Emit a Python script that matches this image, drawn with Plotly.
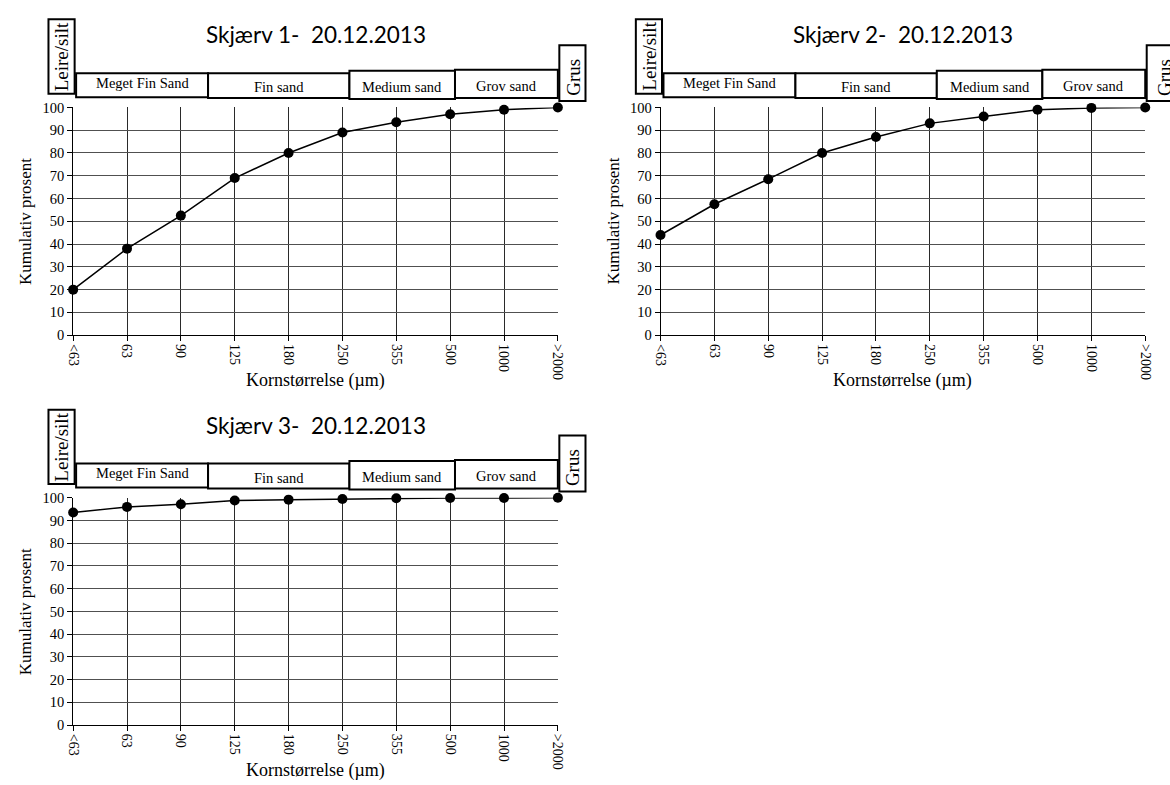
import plotly.graph_objects as go

W, H = 1170, 785

categories = ["<63", "63", "90", "125", "180", "250", "355", "500", "1000", ">2000"]
skjaerv1 = [20, 38, 52.5, 69, 80, 89, 93.5, 97, 99, 100]
skjaerv2 = [44, 57.5, 68.5, 80, 87, 93, 96, 99, 99.8, 100]
skjaerv3 = [93.5, 96, 97.2, 98.8, 99.2, 99.5, 99.8, 99.9, 99.9, 100]
titles = ["Skjærv 1-  20.12.2013", "Skjærv 2-  20.12.2013", "Skjærv 3-  20.12.2013"]
y_ticks = list(range(0, 101, 10))
band_labels = ["Meget Fin Sand", "Fin sand", "Medium sand", "Grov sand"]

SERIF = "Liberation Serif"
TITLEF = "Lato"

def py(p):
    return 1 - p / H

def px(p):
    return p / W

# panel plot-area pixel boxes (left, right, top, bottom, grus text offset)
panels = [
    (66, 557, 101.5, 334, skjaerv1, 15),
    (661, 1152, 101.5, 334, skjaerv2, 19),
    (66, 557, 500, 732, skjaerv3, 15),
]

fig = go.Figure()
layout = dict(
    width=W, height=H, margin=dict(l=0, r=0, t=0, b=0),
    paper_bgcolor="white", plot_bgcolor="white", showlegend=False,
)
annotations = []
shapes = []

for i, (L, R, T, B, vals, gx) in enumerate(panels):
    n = "" if i == 0 else str(i + 1)
    xa, ya = "x" + n, "y" + n
    step = (R - L) / (len(categories) - 1)

    def xp(idx):
        return px(L + idx * step)

    fig.add_trace(go.Scatter(
        x=list(range(len(categories))), y=vals, mode="lines+markers",
        line=dict(color="black", width=1.5),
        marker=dict(color="black", size=10),
        cliponaxis=False, xaxis=xa, yaxis=ya, hoverinfo="skip",
    ))
    layout["xaxis" + n] = dict(
        domain=[px(L), px(R)], range=[0, len(categories) - 1], anchor=ya,
        tickmode="array", tickvals=list(range(len(categories))), ticktext=categories,
        tickangle=90, ticks="outside", ticklen=5, tickcolor="black",
        showline=True, linecolor="black", linewidth=1,
        showgrid=True, gridcolor="#2a2a2a", gridwidth=1, zeroline=False,
        tickfont=dict(family=SERIF, size=14, color="black"),
    )
    layout["yaxis" + n] = dict(
        domain=[py(B), py(T)], range=[0, 100], anchor=xa,
        tickmode="array", tickvals=y_ticks,
        ticks="outside", ticklen=5, tickcolor="black",
        showline=True, linecolor="black", linewidth=1,
        showgrid=True, gridcolor="#505050", gridwidth=1, zeroline=False,
        tickfont=dict(family=SERIF, size=14.5, color="black"),
    )
    # titles
    annotations.append(dict(
        text=titles[i], x=px((L + R) / 2), y=py(T - 74), xref="paper", yref="paper",
        showarrow=False, font=dict(family=TITLEF, size=22.5, color="black"),
        xanchor="center", yanchor="middle",
    ))
    annotations.append(dict(
        text="Kumulativ prosent", x=px(L - 48), y=py((T + B) / 2), xref="paper", yref="paper",
        showarrow=False, textangle=-90, font=dict(family=SERIF, size=17, color="black"),
        xanchor="center", yanchor="middle",
    ))
    annotations.append(dict(
        text="Kornstørrelse (µm)", x=px((L + R) / 2), y=py(B + 46), xref="paper", yref="paper",
        showarrow=False, font=dict(family=SERIF, size=18, color="black"),
        xanchor="center", yanchor="middle",
    ))
    # band boxes: (x0 idx, x1 idx, top offset, bottom offset, text y offset)
    boxes = [
        (0.055, 2.505, -35, -10.5, -25, band_labels[0]),
        (2.505, 5.13, -35, -9.5, -20.5, band_labels[1]),
        (5.13, 7.09, -37.5, -8.5, -21, band_labels[2]),
        (7.09, 9.0, -38.5, -9.5, -22, band_labels[3]),
    ]
    for (a, b, t0, b0, ty, lab) in boxes:
        shapes.append(dict(type="rect", xref="paper", yref="paper", x0=xp(a), x1=xp(b),
                           y0=py(T + b0), y1=py(T + t0),
                           line=dict(color="black", width=2), fillcolor="white", layer="above"))
        annotations.append(dict(text=lab, x=xp((a + b) / 2), y=py(T + ty), xref="paper", yref="paper",
                                showarrow=False, font=dict(family=SERIF, size=14.5, color="black"),
                                xanchor="center", yanchor="middle"))
    # Leire/silt vertical box
    shapes.append(dict(type="rect", xref="paper", yref="paper", x0=px(L - 25), x1=px(L + 1.5),
                       y0=py(T - 14), y1=py(T - 90),
                       line=dict(color="black", width=2), fillcolor="white", layer="above"))
    annotations.append(dict(text="Leire/silt", x=px(L - 11.5), y=py(T - 52), xref="paper", yref="paper",
                            showarrow=False, textangle=-90,
                            font=dict(family=SERIF, size=19, color="black"),
                            xanchor="center", yanchor="middle"))
    # Grus vertical box
    shapes.append(dict(type="rect", xref="paper", yref="paper", x0=px(R + 1.5), x1=px(R + 28 + (gx - 15) * 2),
                       y0=py(T - 6.5), y1=py(T - 63.5),
                       line=dict(color="black", width=2), fillcolor="white", layer="above"))
    annotations.append(dict(text="Grus", x=px(R + gx), y=py(T - 31), xref="paper", yref="paper",
                            showarrow=False, textangle=-90,
                            font=dict(family=SERIF, size=19, color="black"),
                            xanchor="center", yanchor="middle"))

layout["annotations"] = annotations
layout["shapes"] = shapes
fig.update_layout(**layout)
fig.write_html(
    "out.html",
    config={"displayModeBar": False},
    post_script="document.body.style.margin='0px';document.body.style.overflow='hidden';",
)
